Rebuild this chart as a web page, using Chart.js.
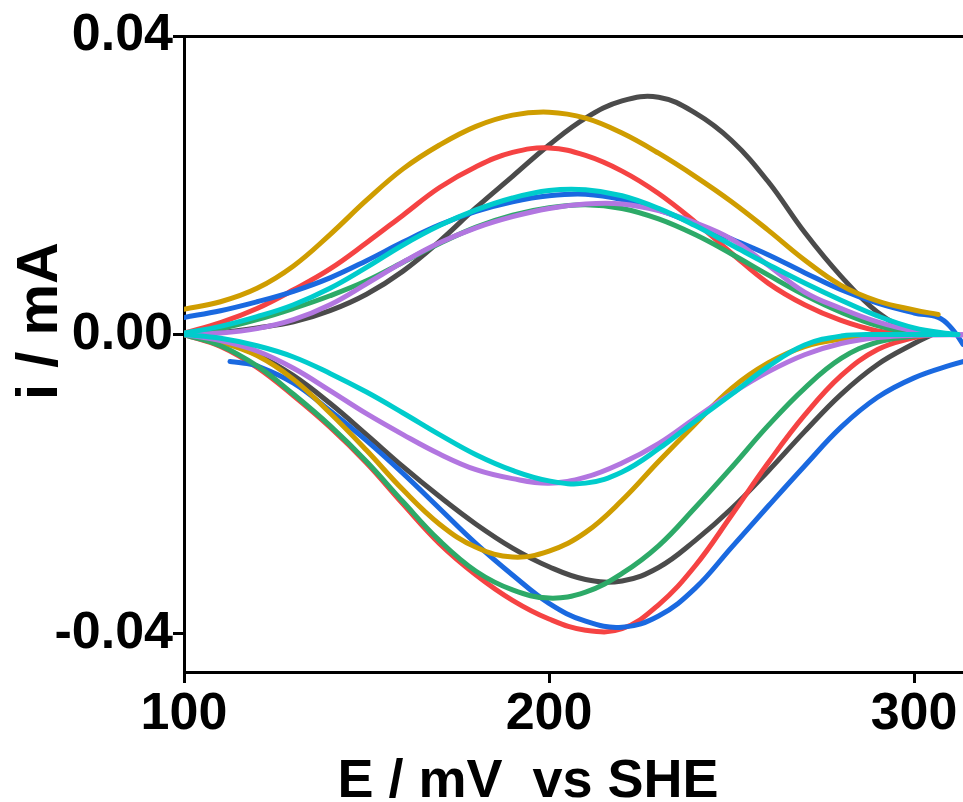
<!DOCTYPE html>
<html><head><meta charset="utf-8">
<script src="https://cdn.jsdelivr.net/npm/chart.js@4.4.1/dist/chart.umd.min.js"></script>
<style>html,body{margin:0;padding:0;background:#fff;overflow:hidden}</style>
</head><body>
<canvas id="c" width="963" height="802"></canvas>
<script>
// ---------- DATA (E in mV vs SHE, i in mA) ----------
const xTicks = [100, 200, 300];
const yTicks = [-0.04, 0, 0.04];
const yTickLabels = ['-0.04', '0.00', '0.04'];
const xTitle = 'E / mV  vs SHE';
const yTitle = 'i / mA';

// black
const blackOxE  = [100, 110, 120, 130, 140, 150, 160, 170, 180, 190, 200, 210, 220, 230, 240, 250, 260, 270, 280, 290, 300, 305];
const blackOxI  = [0, 0.0003, 0.0009, 0.0017, 0.0032, 0.0054, 0.0085, 0.0125, 0.0170, 0.0212, 0.0254, 0.0290, 0.0313, 0.0318, 0.0297, 0.0260, 0.0205, 0.0137, 0.0078, 0.0030, 0.0003, 0];
const blackRedE = [100, 110, 120, 130, 140, 150, 160, 170, 180, 190, 200, 210, 220, 230, 240, 250, 260, 270, 280, 290, 300, 305];
const blackRedI = [0, -0.0009, -0.0027, -0.0055, -0.0092, -0.0134, -0.0177, -0.0217, -0.0254, -0.0286, -0.0311, -0.0328, -0.0330, -0.0312, -0.0276, -0.0233, -0.0183, -0.0130, -0.0080, -0.0040, -0.0012, 0];
// red
const redOxE  = [100, 110, 120, 130, 140, 150, 160, 170, 180, 190, 200, 210, 220, 230, 240, 250, 260, 270, 280, 290, 300];
const redOxI  = [0.0002, 0.0016, 0.0035, 0.0060, 0.0088, 0.0123, 0.0160, 0.0197, 0.0225, 0.0244, 0.0250, 0.0240, 0.0219, 0.0189, 0.0151, 0.0109, 0.0069, 0.0040, 0.0019, 0.0005, 0];
const redRedE = [100, 110, 120, 130, 140, 150, 160, 170, 180, 190, 200, 210, 220, 230, 240, 250, 260, 270, 280, 290, 300, 305];
const redRedI = [0, -0.0016, -0.0044, -0.0082, -0.0124, -0.0172, -0.0227, -0.0280, -0.0322, -0.0356, -0.0381, -0.0396, -0.0394, -0.0362, -0.0310, -0.0242, -0.0172, -0.0108, -0.0055, -0.0020, -0.0004, 0];
// gold
const goldOxE  = [100, 110, 120, 130, 140, 150, 160, 170, 180, 190, 200, 210, 220, 230, 240, 250, 260, 270, 280, 290, 300, 306.6];
const goldOxI  = [0.0034, 0.0044, 0.0062, 0.0092, 0.0134, 0.0180, 0.0222, 0.0254, 0.0279, 0.0294, 0.0298, 0.0290, 0.0270, 0.0243, 0.0212, 0.0178, 0.0140, 0.0100, 0.0066, 0.0045, 0.0033, 0.0027];
const goldRedE = [100, 110, 120, 130, 140, 150, 160, 170, 180, 190, 200, 210, 220, 230, 240, 250, 260, 270, 280, 290, 300];
const goldRedI = [0, -0.0010, -0.0028, -0.0060, -0.0105, -0.0155, -0.0208, -0.0254, -0.0285, -0.0298, -0.0290, -0.0265, -0.0222, -0.0170, -0.0120, -0.0072, -0.0038, -0.0016, -0.0006, -0.0002, 0];
// blue
const blueOxE  = [100, 110, 120, 130, 140, 150, 160, 170, 180, 190, 200, 210, 220, 230, 240, 250, 260, 270, 280, 290, 300, 306.6, 310, 313.4, 316];
const blueOxI  = [0.0023, 0.0032, 0.0044, 0.0058, 0.0076, 0.0099, 0.0124, 0.0147, 0.0165, 0.0178, 0.0186, 0.0188, 0.0181, 0.0167, 0.0148, 0.0128, 0.0107, 0.0083, 0.0060, 0.0042, 0.0029, 0.0023, 0.0010, -0.0013, -0.0035];
const blueRedE = [112.6, 116, 120, 130, 140, 150, 160, 170, 180, 190, 200, 210, 220, 230, 240, 250, 260, 270, 280, 290, 300, 310, 316];
const blueRedI = [-0.0036, -0.0038, -0.0042, -0.0065, -0.0102, -0.0142, -0.0186, -0.0233, -0.0280, -0.0322, -0.0360, -0.0384, -0.0392, -0.0377, -0.0340, -0.0285, -0.0230, -0.0176, -0.0124, -0.0084, -0.0058, -0.0041, -0.0033];
// cyan
const cyanOxE  = [100, 110, 120, 130, 140, 150, 160, 170, 180, 190, 200, 210, 220, 230, 240, 250, 260, 270, 280, 290, 300, 310, 312];
const cyanOxI  = [0.0002, 0.0011, 0.0024, 0.0040, 0.0062, 0.0090, 0.0120, 0.0146, 0.0167, 0.0183, 0.0193, 0.0194, 0.0186, 0.0169, 0.0146, 0.0120, 0.0094, 0.0069, 0.0046, 0.0025, 0.0009, 0.0001, 0];
const cyanRedE = [100, 110, 120, 130, 140, 150, 160, 170, 180, 190, 200, 210, 220, 230, 240, 250, 260, 270, 280, 290, 312];
const cyanRedI = [0, -0.0005, -0.0015, -0.0030, -0.0052, -0.0077, -0.0105, -0.0134, -0.0161, -0.0182, -0.0196, -0.0199, -0.0184, -0.0153, -0.0116, -0.0080, -0.0043, -0.0014, -0.0002, 0, 0];
// green
const greenOxE  = [100, 110, 120, 130, 140, 150, 160, 170, 180, 190, 200, 210, 220, 230, 240, 250, 260, 270, 280, 290, 300, 305];
const greenOxI  = [0, 0.0008, 0.0020, 0.0035, 0.0052, 0.0072, 0.0097, 0.0122, 0.0144, 0.0160, 0.0170, 0.0174, 0.0169, 0.0155, 0.0134, 0.0108, 0.0080, 0.0053, 0.0030, 0.0012, 0.0002, 0];
const greenRedE = [100, 110, 120, 130, 140, 150, 160, 170, 180, 190, 200, 210, 220, 230, 240, 250, 260, 270, 280, 290, 300, 305];
const greenRedI = [0, -0.0015, -0.0042, -0.0080, -0.0122, -0.0170, -0.0224, -0.0276, -0.0317, -0.0342, -0.0353, -0.0345, -0.0320, -0.0283, -0.0232, -0.0178, -0.0122, -0.0072, -0.0032, -0.0010, -0.0002, 0];
// purple
const purpleOxE  = [100, 110, 120, 130, 140, 150, 160, 170, 180, 190, 200, 210, 220, 230, 240, 250, 260, 270, 280, 290, 300, 310, 316];
const purpleOxI  = [0, 0.0002, 0.0008, 0.0020, 0.0040, 0.0068, 0.0097, 0.0123, 0.0143, 0.0158, 0.0169, 0.0175, 0.0175, 0.0166, 0.0150, 0.0128, 0.0093, 0.0057, 0.0035, 0.0017, 0.0005, 0, 0];
const purpleRedE = [100, 110, 120, 130, 140, 150, 160, 170, 180, 190, 200, 210, 220, 230, 240, 250, 260, 270, 280, 290, 300, 316];
const purpleRedI = [0, -0.0008, -0.0022, -0.0045, -0.0075, -0.0106, -0.0134, -0.0160, -0.0181, -0.0193, -0.0199, -0.0191, -0.0172, -0.0146, -0.0112, -0.0079, -0.0050, -0.0027, -0.0012, -0.0004, -0.0001, 0];

// ---------- STYLE ----------
const FONT = 'Arial, "Liberation Sans", sans-serif';
const COLORS = {
  black: '#4b4b4b', red: '#f54343', gold: '#cf9d00', blue: '#1a69e0',
  cyan: '#00cccc', green: '#2daa68', purple: '#b276e0'
};
// first listed is drawn on top
const series = [
  [cyanOxE, cyanOxI, 'cyan'], [cyanRedE, cyanRedI, 'cyan'],
  [purpleOxE, purpleOxI, 'purple'], [purpleRedE, purpleRedI, 'purple'],
  [greenOxE, greenOxI, 'green'], [greenRedE, greenRedI, 'green'],
  [goldOxE, goldOxI, 'gold'], [goldRedE, goldRedI, 'gold'],
  [blueOxE, blueOxI, 'blue'], [blueRedE, blueRedI, 'blue'],
  [redOxE, redOxI, 'red'], [redRedE, redRedI, 'red'],
  [blackOxE, blackOxI, 'black'], [blackRedE, blackRedI, 'black']
];
const datasets = series.map(([E, I, c]) => ({
  data: E.map((e, k) => ({x: e, y: I[k]})),
  borderColor: COLORS[c], backgroundColor: COLORS[c],
  borderWidth: 5, pointRadius: 0, pointHoverRadius: 0, fill: false,
  tension: 0.4, borderCapStyle: 'round', borderJoinStyle: 'round'
}));

const titlePlugin = {
  id: 'axisTitles',
  afterDraw(chart) {
    const c = chart.ctx;
    c.save();
    c.fillStyle = '#000';
    c.textAlign = 'center';
    c.textBaseline = 'alphabetic';
    c.font = 'bold 54px ' + FONT;
    c.fillText(xTitle, 528, 797);
    c.translate(57, 321);
    c.rotate(-Math.PI / 2);
    c.font = 'bold 58px ' + FONT;
    c.fillText(yTitle, 0, 0);
    c.restore();
  }
};

const tickFont = {family: FONT, size: 52, weight: 'bold'};
new Chart(document.getElementById('c').getContext('2d'), {
  type: 'line',
  data: {datasets},
  options: {
    responsive: false, animation: false, devicePixelRatio: 1,
    layout: {padding: {top: 36, left: 0, right: 0, bottom: 0}},
    plugins: {legend: {display: false}, tooltip: {enabled: false}},
    scales: {
      x: {
        type: 'linear', position: 'bottom', min: 100, max: 313.4,
        afterBuildTicks: s => { s.ticks = xTicks.map(v => ({value: v})); },
        afterFit: s => { s.height = 130; },
        grid: {display: true, drawOnChartArea: false, drawTicks: true, tickLength: 11, tickWidth: 3, tickColor: '#000'},
        border: {display: true, width: 3, color: '#000'},
        ticks: {font: tickFont, color: '#000', padding: 0, maxRotation: 0, autoSkip: false, callback: v => String(v)}
      },
      xTop: {
        type: 'linear', position: 'top', min: 100, max: 313.4,
        afterFit: s => { s.height = 0; },
        grid: {display: false, drawTicks: false},
        border: {display: true, width: 3, color: '#000'},
        ticks: {display: false}
      },
      y: {
        type: 'linear', position: 'left', min: -0.0452, max: 0.04,
        afterBuildTicks: s => { s.ticks = yTicks.map(v => ({value: v})); },
        afterFit: s => { s.width = 184; },
        grid: {display: true, drawOnChartArea: false, drawTicks: true, tickLength: 11, tickWidth: 3, tickColor: '#000'},
        border: {display: true, width: 3, color: '#000'},
        ticks: {font: tickFont, color: '#000', padding: 0, autoSkip: false, callback: (v, i) => yTickLabels[i]}
      }
    }
  },
  plugins: [titlePlugin]
});
</script>
</body></html>
